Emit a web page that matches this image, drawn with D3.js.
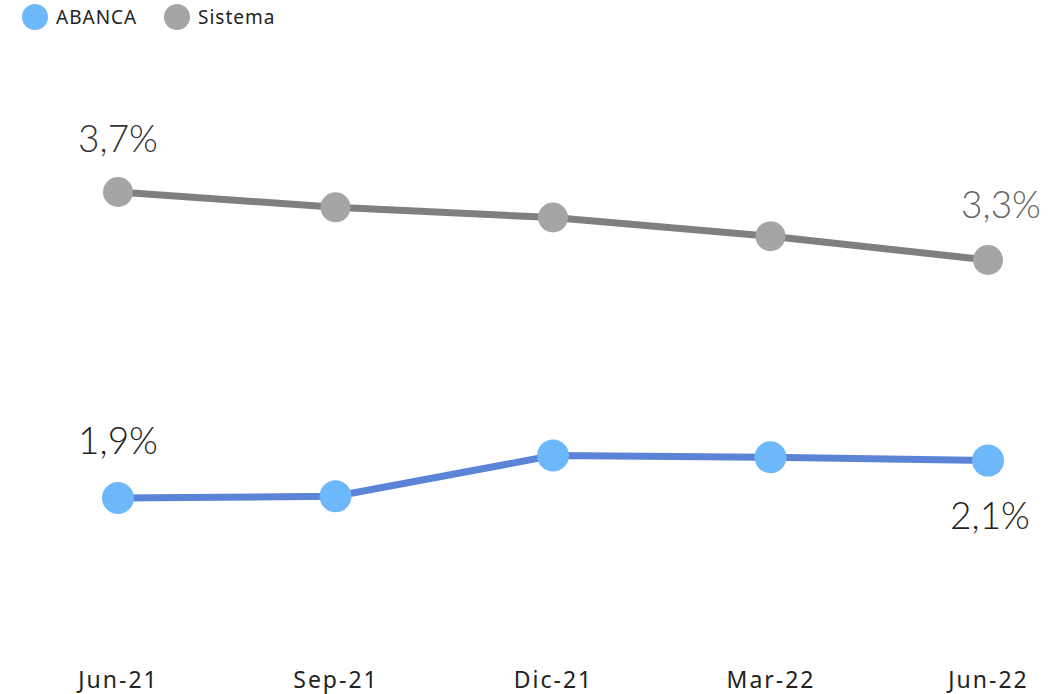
<!DOCTYPE html>
<html>
<head>
<meta charset="utf-8">
<script src="https://cdn.jsdelivr.net/npm/d3@7"></script>
<style>
  body { margin: 0; background: #fff; }
  svg { display: block; }
</style>
</head>
<body>
<div id="chart"></div>
<script>
var categories = ["Jun-21", "Sep-21", "Dic-21", "Mar-22", "Jun-22"];
var abancaValues = [1.90, 1.91, 2.15, 2.14, 2.12];
var sistemaValues = [3.70, 3.61, 3.55, 3.44, 3.30];
var seriesNames = ["ABANCA", "Sistema"];
// labels only on the first and last point, like the original
var abancaLabels = ["1,9%", "", "", "", "2,1%"];
var sistemaLabels = ["3,7%", "", "", "", "3,3%"];

var width = 1064, height = 694;

var svg = d3.select("#chart").append("svg")
    .attr("width", width)
    .attr("height", height);

var x = d3.scalePoint()
    .domain(categories)
    .range([118, 988]);

var y = d3.scaleLinear()
    .domain([1.0, 4.5])
    .range([651, 56]);

var series = [
  {name: "Sistema", values: sistemaValues, labels: sistemaLabels, line: "#7f7f7f", dot: "#a5a5a5", r: 15,
   labelDy: [-40, 0, 0, 0, -42], labelDx: [0, 0, 0, 0, 13], labelColor: ["#333", "", "", "", "#666"]},
  {name: "ABANCA", values: abancaValues, labels: abancaLabels, line: "#5b84d6", dot: "#6db8fb", r: 16,
   labelDy: [-44, 0, 0, 0, 68], labelDx: [0, 0, 0, 0, 2], labelColor: ["#222", "", "", "", "#222"]}
];

var line = d3.line()
    .x(function(d, i) { return x(categories[i]); })
    .y(function(d) { return y(d); });

series.forEach(function(s) {
  svg.append("path")
      .datum(s.values)
      .attr("d", line)
      .attr("fill", "none")
      .attr("stroke", s.line)
      .attr("stroke-width", 7);

  svg.selectAll(".dot-" + s.name)
      .data(s.values)
      .enter().append("circle")
      .attr("cx", function(d, i) { return x(categories[i]); })
      .attr("cy", function(d) { return y(d); })
      .attr("r", s.r)
      .attr("fill", s.dot);

  var pts = s.values.map(function(v, i) { return {v: v, i: i}; })
      .filter(function(p) { return s.labels[p.i] != ""; });

  svg.selectAll(".lbl-" + s.name)
      .data(pts)
      .enter().append("text")
      .attr("x", function(p) { return x(categories[p.i]) + s.labelDx[p.i]; })
      .attr("y", function(p) { return y(p.v) + s.labelDy[p.i]; })
      .attr("text-anchor", "middle")
      .style("font-family", "Lato, sans-serif")
      .style("font-weight", 300)
      .style("font-size", "37px")
      .style("fill", function(p) { return s.labelColor[p.i]; })
      .text(function(p) { return s.labels[p.i]; });
});

// bottom category labels
var xAxis = d3.axisBottom(x).tickSize(0).tickPadding(0);
var axisG = svg.append("g")
    .attr("transform", "translate(0,672)")
    .call(xAxis);
axisG.select(".domain").remove();
axisG.selectAll("text")
    .style("font-family", "'Noto Sans', sans-serif")
    .style("font-size", "23px")
    .style("letter-spacing", "2px")
    .style("fill", "#222");

// legend
var legendColors = ["#6db8fb", "#a5a5a5"];
var legendX = [35, 177];
var legend = svg.selectAll(".legend")
    .data(seriesNames)
    .enter().append("g")
    .attr("transform", function(d, i) { return "translate(" + legendX[i] + ",17)"; });
legend.append("circle")
    .attr("r", 13)
    .attr("fill", function(d, i) { return legendColors[i]; });
legend.append("text")
    .attr("x", 21)
    .attr("y", 7)
    .style("font-family", "'Noto Sans', sans-serif")
    .style("font-size", "19px")
    .style("letter-spacing", "1px")
    .style("fill", "#222")
    .text(function(d) { return d; });
</script>
</body>
</html>
